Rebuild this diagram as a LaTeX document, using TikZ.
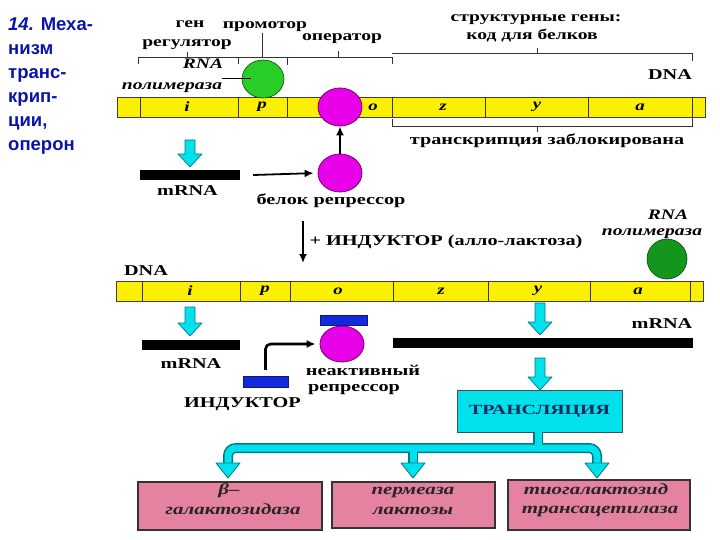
\documentclass[tikz,border=0pt]{standalone}
\usepackage{fontspec}
\setmainfont{Liberation Serif}
\newfontfamily\labfont[FakeStretch=1.35]{Liberation Serif}
\newfontfamily\ttlfont{Liberation Sans}
\usetikzlibrary{shapes.geometric,arrows.meta}
\definecolor{dnay}{RGB}{250,240,0}
\definecolor{magen}{RGB}{232,0,232}
\definecolor{magdark}{RGB}{120,0,110}
\definecolor{grnA}{RGB}{40,205,40}
\definecolor{grnB}{RGB}{20,150,30}
\definecolor{cyanA}{RGB}{0,225,235}
\definecolor{cyedge}{RGB}{0,120,140}
\definecolor{pinkbox}{RGB}{228,130,160}
\definecolor{indblue}{RGB}{20,40,220}
\definecolor{ttlblue}{RGB}{10,20,170}
\definecolor{trtext}{RGB}{20,40,90}
\tikzset{
  pics/cyarr/.style={code={
    \draw[fill=cyanA,draw=cyedge,line width=0.7pt,line join=round]
      (-5,0) -- (5,0) -- (5,#1-13) -- (12,#1-13) -- (0,#1) -- (-12,#1-13) -- (-5,#1-13) -- cycle;}},
}
\begin{document}
\begin{tikzpicture}[x=1pt,y=-1pt,
  lbl/.style={font=\labfont\bfseries\fontsize{15}{16}\selectfont, inner sep=0, anchor=base},
  slbl/.style={font=\labfont\bfseries\fontsize{14.5}{15}\selectfont, inner sep=0, anchor=base},
  ilbl/.style={font=\labfont\bfseries\itshape\fontsize{14.5}{15}\selectfont, inner sep=0, anchor=base},
  btxt/.style={font=\labfont\bfseries\itshape\fontsize{15.5}{16}\selectfont, text=black!85, inner sep=0, anchor=base},
  gene/.style={font=\labfont\bfseries\itshape\fontsize{14}{15}\selectfont, inner sep=0},
  ttl/.style={font=\ttlfont\bfseries\fontsize{18.5}{20}\selectfont, text=ttlblue, inner sep=0, anchor=base west},
  dnabar/.style={fill=dnay, draw=black!75, line width=0.8pt},
  divider/.style={draw=black!80, line width=0.9pt},
  brk/.style={draw=black!80, line width=1pt},
  rep/.style={ellipse, fill=magen, draw=magdark, line width=0.8pt, minimum width=44pt, minimum height=38pt, inner sep=0},
  poly/.style={ellipse, draw=green!30!black, line width=0.6pt, minimum width=42pt, minimum height=38pt, inner sep=0},
  mbar/.style={rectangle, fill=black, minimum height=10pt, inner sep=0},
  indbar/.style={rectangle, fill=indblue, draw=indblue!60!black, line width=0.5pt, inner sep=0},
  blk/.style={draw=black, line width=1.8pt, -{Latex[length=9pt,width=8pt]}},
  pbox/.style={rectangle, fill=pinkbox, draw=black!80, line width=1.2pt, inner sep=0},
  pipeout/.style={draw=cyedge, line width=10pt, rounded corners=8pt},
  pipein/.style={draw=cyanA, line width=7pt, rounded corners=8pt},
]
\useasboundingbox (0,0) rectangle (720,540);
% title
\node[ttl] (t1) at (8,31) {\textit{14.} Меха-};
\node[ttl] (t2) at (8,55) {низм};
\node[ttl] (t3) at (8,79) {транс-};
\node[ttl] (t4) at (8,103) {крип-};
\node[ttl] (t5) at (8,127) {ции,};
\node[ttl] (t6) at (8,151) {оперон};
% top labels
\node[slbl] (gen) at (190,28) {ген};
\node[slbl] (reg) at (187,47) {регулятор};
\node[slbl] (prom) at (265,29) {промотор};
\node[slbl] (oper) at (342,41) {оператор};
\node[slbl] (struct) at (536,22) {структурные гены:};
\node[slbl] (kod) at (532,40) {код для белков};
\node[lbl] (dna1) at (670,80) {DNA};
% top brackets
\draw[brk] (138,64) -- (138,58) -- (392,58) -- (392,64);
\draw[brk] (238,58) -- (238,64);
\draw[brk] (287,58) -- (287,65);
\draw[brk] (187,58) -- (187,52);
\draw[brk] (262,58) -- (262,33);
\draw[brk] (338,58) -- (338,51);
\draw[brk] (392,54) -- (692,54) -- (692,61);
\draw[brk] (537,54) -- (537,48);
% DNA bar 1
\draw[dnabar] (117,97) rectangle (705,117);
\foreach \x in {140,238,287,392,485,588,692} \draw[divider] (\x,97) -- (\x,117);
\node[gene] (ga1) at (187,107) {i};
\node[gene] (gb1) at (262,107) {p};
\node[gene] (gc1) at (373,107) {o};
\node[gene] (gd1) at (443,107) {z};
\node[gene] (ge1) at (537,107) {y};
\node[gene] (gf1) at (640,107) {a};
% RNA polymerase 1
\node[ilbl] (rna1) at (203,69) {RNA};
\node[ilbl] (pol1) at (172,90) {полимераза};
\node[poly, fill=grnA] (py1) at (263,79) {};
\draw[line width=1pt] (pol1.east |- py1) -- ([xshift=9pt]py1.west);
% repressor 1
\node[rep] (rep1) at (340,107) {};
% bottom bracket
\draw[brk] (392,119) -- (392,127) -- (692,127) -- (692,118);
\draw[brk] (537,127) -- (537,132);
\node[lbl] (blk1) at (547,145) {транскрипция заблокирована};
% mRNA 1 and repressor 2
\pic at (190,140) {cyarr=27};
\node[mbar, minimum width=100pt] (mb1) at (190,175) {};
\node[lbl] (mr1) at (187.5,196) {mRNA};
\node[rep] (rep2) at (340,173) {};
\node[lbl] (bel) at (331,205) {белок репрессор};
\draw[blk, shorten >=4pt] ([xshift=13pt]mb1.east) -- (rep2.west);
\draw[blk] (rep2.north) -- (rep1.south);
% inducer arrow
\coordinate (in0) at (303,221);
\coordinate (in1) at (303,263);
\draw[blk] (in0) -- (in1);
\node[lbl] (indl) at (446,245) {+ ИНДУКТОР (алло-лактоза)};
% RNA polymerase 2
\node[ilbl] (rna2) at (668,220) {RNA};
\node[ilbl] (pol2) at (652,236) {полимераза};
% DNA bar 2
\node[lbl] (dna2) at (146,275) {DNA};
\draw[dnabar] (116,281) rectangle (703,301);
\foreach \x in {142,240,290,393,488,590,690} \draw[divider] (\x,281) -- (\x,301);
\node[gene] (ga2) at (190,291) {i};
\node[gene] (gb2) at (265,291) {p};
\node[gene] (gc2) at (338,291) {o};
\node[gene] (gd2) at (441,291) {z};
\node[gene] (ge2) at (538,291) {y};
\node[gene] (gf2) at (638,291) {a};
\node[poly, fill=grnB, minimum width=40pt, minimum height=40pt] (py2) at (667,259) {};
% lower left
\pic at (190,307) {cyarr=29};
\node[mbar, minimum width=98pt] (mb2) at (191,345) {};
\node[lbl] (mr2) at (191,368) {mRNA};
\node[indbar, minimum width=45pt, minimum height=11pt] (indr) at (265.5,381.5) {};
\node[lbl] (indt) at (242.5,407) {ИНДУКТОР};
\node[rep, minimum height=36pt] (rep3) at (342,344) {};
\node[indbar, minimum width=47pt, minimum height=10pt] (cap) at (343.5,320) {};
\node[lbl] (neak) at (363,375) {неактивный};
\node[lbl] (rep3l) at (354,391) {репрессор};
\draw[blk, line width=2.6pt, rounded corners=5pt, shorten >=4pt] ([yshift=6pt]indr.north) |- (rep3.west);
% right: mRNA and translation
\pic at (540,303) {cyarr=32};
\node[mbar, minimum width=300pt] (mb3) at (543,343) {};
\node[lbl] (mr3) at (662,328) {mRNA};
\pic at (540,358) {cyarr=32};
\node[rectangle, fill=cyanA, draw=black!70, line width=1pt, minimum width=165pt, minimum height=42pt, text=trtext, font=\labfont\bfseries\fontsize{14}{15}\selectfont] (trans) at (539.5,411) {\scalebox{1.05}[1]{ТРАНСЛЯЦИЯ}};
% pipes
\draw[pipeout] (228,466) -- (228,448) -- (597,448) -- (597,466);
\draw[pipeout] (413,448) -- (413,466);
\draw[pipeout] (trans.south -| 538,0) -- (538,448);
\draw[pipein] (228,466) -- (228,448) -- (597,448) -- (597,466);
\draw[pipein] (413,448) -- (413,466);
\draw[pipein] ([yshift=0.5pt]trans.south -| 538,0) -- (538,448);
\foreach \hx in {228,413,597}
  \draw[fill=cyanA, draw=cyedge, line width=0.8pt, line join=round] (\hx-12,463) -- (\hx+12,463) -- (\hx,478) -- cycle;
% boxes
\node[pbox, minimum width=184pt, minimum height=48pt] (b1) at (230,506) {};
\node[btxt] (b1a) at (229,494) {β–};
\node[btxt] (b1b) at (233,514) {галактозидаза};
\node[pbox, minimum width=163pt, minimum height=46pt] (b2) at (413.5,505) {};
\node[btxt] (b2a) at (413,494) {пермеаза};
\node[btxt] (b2b) at (413,514) {лактозы};
\node[pbox, minimum width=182pt, minimum height=50pt] (b3) at (599,505) {};
\node[btxt] (b3a) at (596,494) {тиогалактозид};
\node[btxt] (b3b) at (600,513) {трансацетилаза};
\end{tikzpicture}
\end{document}
